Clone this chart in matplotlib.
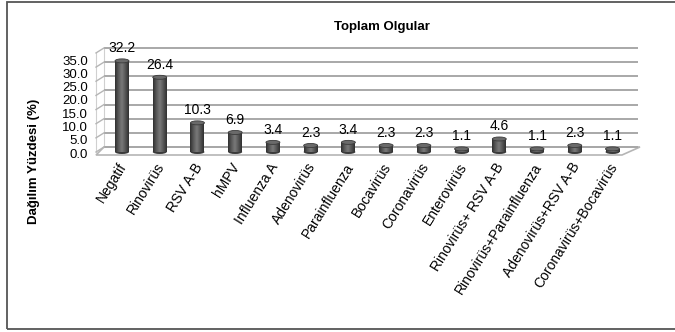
import numpy as np
import matplotlib
matplotlib.use("Agg")
import matplotlib.pyplot as plt
from matplotlib.patches import Ellipse, Polygon, Rectangle
from matplotlib.colors import LinearSegmentedColormap

plt.rcParams['font.family'] = ['Liberation Sans', 'DejaVu Sans']

categories = ['Negatif', 'Rinovirüs', 'RSV A-B', 'hMPV', 'Influenza A', 'Adenovirüs',
              'Parainfluenza', 'Bocavirüs', 'Coronavirüs', 'Enterovirüs',
              'Rinovirüs+ RSV A-B', 'Rinovirüs+Parainfluenza', 'Adenovirüs+RSV A-B',
              'Coronavirüs+Bocavirüs']
values = [32.2, 26.4, 10.3, 6.9, 3.4, 2.3, 3.4, 2.3, 2.3, 1.1, 4.6, 1.1, 2.3, 1.1]
yticks = [0, 5, 10, 15, 20, 25, 30, 35]

W, H = 675, 332
fig = plt.figure(figsize=(W / 100, H / 100), dpi=100)


def px_axes(l, t, r, b):
    return fig.add_axes([l / W, 1 - b / H, (r - l) / W, (b - t) / H])


def px_x(p):
    # horizontal pixel -> category index
    return (p - 122) / 37.73


def px_y(p):
    # vertical pixel -> value on the bar scale
    return (152 - p) / 2.83


# front wall axis: carries only the tick labels
ax_t = px_axes(95, 40, 645, 165)
ax_t.set_xlim(0, 1)
ax_t.set_ylim((153 - 165) / 2.657, (153 - 40) / 2.657)
ax_t.set_yticks(yticks)
ax_t.set_yticklabels([f'{v:.1f}' for v in yticks], fontsize=9.5)
ax_t.tick_params(axis='y', length=0, pad=5)
ax_t.set_xticks([])
for s in ax_t.spines.values():
    s.set_visible(False)
ax_t.patch.set_visible(False)

ax = px_axes(95, 40, 645, 165)
ax.set_xlim(px_x(95), px_x(645))
ax.set_ylim(px_y(165), px_y(40))
ax.axis('off')

depth = 5 / 2.83
xb_l, xb_r = px_x(104), px_x(638)
xf_l, xf_r = px_x(96), px_x(622)

# floor
floor = Polygon([(xb_l, depth), (px_x(640), depth), (xf_r, px_y(155)), (xf_l, px_y(155))],
                closed=True, facecolor='white', edgecolor='#b5b5b5', lw=1.2, zorder=1)
ax.add_patch(floor)

# back wall gridlines and left wall stubs
for v in yticks:
    ax.plot([xb_l, xb_r], [v + depth, v + depth], color='#a8a8a8', lw=1.4, zorder=1.5,
            solid_capstyle='butt')
    ax.plot([xf_l, xb_l], [v, v + depth], color='#b5b5b5', lw=1.0, zorder=1.5)
ax.plot([xb_l, xb_l], [depth, 35 + depth], color='#d0d0d0', lw=0.8, zorder=1.4)
ax.plot([xf_l, xf_l], [0, 35], color='#d0d0d0', lw=0.8, zorder=1.4)

# cylinder bars
w = 0.37
cyl = LinearSegmentedColormap.from_list('cyl', ['#2f2f2f', '#5a5a5a', '#7a7a7a', '#555555', '#303030'])
grad = np.linspace(0, 1, 64).reshape(1, -1)
cap_h = 4 / 2.83
x = np.arange(len(values))
bars = ax.bar(x, values, width=w, color='#4a4a4a', zorder=3)
for xi, v, b in zip(x, values, bars):
    ax.add_patch(Ellipse((xi, 0), w, cap_h, facecolor='#3a3a3a', edgecolor='none', zorder=2.9))
    im = ax.imshow(grad, cmap=cyl, aspect='auto', extent=[xi - w / 2, xi + w / 2, 0, v],
                   zorder=3.1, interpolation='bilinear')
    im.set_clip_path(b)
    ax.add_patch(Ellipse((xi, v), w, cap_h, facecolor='#6a6a6a', edgecolor='#3a3a3a',
                         lw=0.6, zorder=3.2))
    ax.text(xi, v + 3.0, f'{v:.1f}', ha='center', va='baseline', fontsize=10, zorder=4)

ax.set_xlim(px_x(95), px_x(645))
ax.set_ylim(px_y(165), px_y(40))

for xi, name in zip(x, categories):
    ax.text(xi + 0.05, px_y(164), name, rotation=58, rotation_mode='anchor',
            ha='right', va='center', fontsize=10, clip_on=False)

fig.text(382 / W, 1 - 27 / H, 'Toplam Olgular', ha='center', va='center',
         fontsize=9.5, fontweight='bold')
fig.text(34 / W, 1 - 161 / H, 'Dağılım Yüzdesi (%)', rotation=90, ha='center',
         va='center', fontsize=9.5, fontweight='bold')

fig.patches.append(Rectangle((7 / W, 1 - 329 / H), 700 / W, 327 / H, fill=False,
                             edgecolor='#555555', lw=1.3, transform=fig.transFigure))

fig.savefig('out.png', dpi=100)
